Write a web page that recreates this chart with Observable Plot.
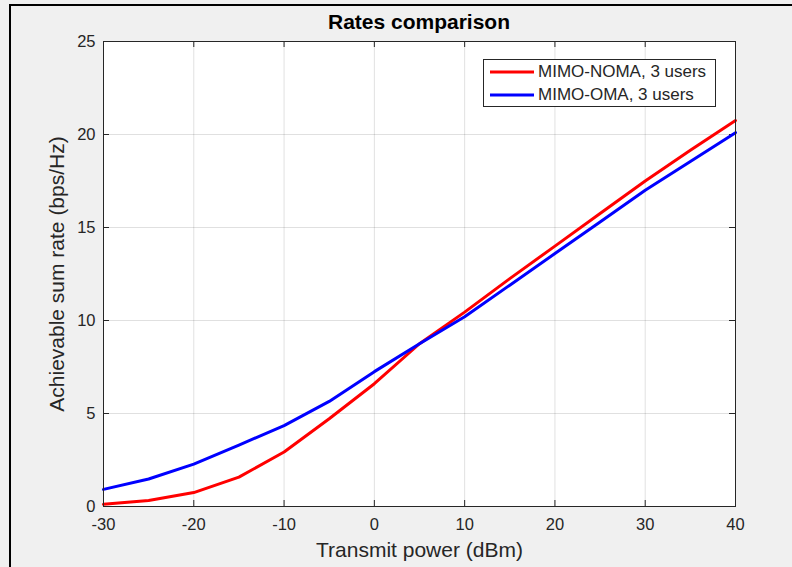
<!DOCTYPE html>
<html>
<head>
<meta charset="utf-8">
<script src="https://cdn.jsdelivr.net/npm/d3@7"></script>
<script src="https://cdn.jsdelivr.net/npm/@observablehq/plot@0.6"></script>
<style>
  html, body { margin: 0; padding: 0; background: #f0f0f0; }
  #fig { position: relative; width: 792px; height: 567px; overflow: hidden; background: #f0f0f0;
         font-family: "Liberation Sans", Arial, Helvetica, sans-serif; }
  #bt { position: absolute; left: 9px; top: 4px; width: 783px; height: 2px; background: #000; }
  #bl { position: absolute; left: 9px; top: 4px; width: 2px; height: 563px; background: #000; }
  #chart { position: absolute; left: 0; top: 0; }
  #title { position: absolute; left: 103px; width: 632px; top: 10px; text-align: center;
           font-weight: bold; font-size: 21px; color: #000; line-height: 24px; }
  #legend { position: absolute; left: 483px; top: 59px; width: 233px; height: 48px; background: #fff;
            border: 1px solid #262626; box-sizing: border-box; }
  .item { position: absolute; left: 6px; height: 22px; display: flex; align-items: center;
          font-size: 17px; color: #262626; white-space: nowrap; }
  .item svg { margin-right: 4px; }
</style>
</head>
<body>
<div id="fig">
  <div id="chart"></div>
  <div id="bt"></div>
  <div id="bl"></div>
  <div id="title"></div>
  <div id="legend"></div>
</div>
<script>
// ---- data ----
const power = [-30, -25, -20, -15, -10, -5, 0, 5, 10, 15, 20, 25, 30, 35, 40];
const nomaRate = [0.12, 0.32, 0.75, 1.58, 2.93, 4.72, 6.6, 8.75, 10.45, 12.25, 14.0, 15.75, 17.5, 19.15, 20.75];
const omaRate  = [0.92, 1.48, 2.28, 3.3, 4.35, 5.65, 7.25, 8.75, 10.2, 11.9, 13.6, 15.3, 17.0, 18.55, 20.1];
const seriesNames = ["MIMO-NOMA, 3 users", "MIMO-OMA, 3 users"];
const seriesColors = ["#ff0000", "#0000ff"];
const xTicks = [-30, -20, -10, 0, 10, 20, 30, 40];
const yTicks = [0, 5, 10, 15, 20, 25];
const titleText = "Rates comparison";
const xLabel = "Transmit power (dBm)";
const yLabel = "Achievable sum rate (bps/Hz)";

const data = power.flatMap((p, i) => [
  {power: p, rate: nomaRate[i], series: seriesNames[0]},
  {power: p, rate: omaRate[i], series: seriesNames[1]}
]);

const W = 792, H = 567, mL = 103, mR = 57, mT = 41, mB = 61;
const innerW = W - mL - mR, innerH = H - mT - mB, tickLen = 6;
const axisColor = "#262626";
const fmt = d => String(d);

const chart = Plot.plot({
  width: W, height: H,
  marginLeft: mL, marginRight: mR, marginTop: mT, marginBottom: mB,
  style: {background: "transparent", fontFamily: "'Liberation Sans', Arial, Helvetica, sans-serif", color: axisColor},
  x: {domain: [-30, 40]},
  y: {domain: [0, 25]},
  color: {domain: seriesNames, range: seriesColors},
  marks: [
    Plot.frame({fill: "white", stroke: null}),
    Plot.gridX(xTicks, {stroke: "#000", strokeOpacity: 0.12}),
    Plot.gridY(yTicks, {stroke: "#000", strokeOpacity: 0.12}),
    Plot.tickX(xTicks, {x: d => d, insetTop: innerH - tickLen, stroke: axisColor}),
    Plot.tickX(xTicks, {x: d => d, insetBottom: innerH - tickLen, stroke: axisColor}),
    Plot.tickY(yTicks, {y: d => d, insetRight: innerW - tickLen, stroke: axisColor}),
    Plot.tickY(yTicks, {y: d => d, insetLeft: innerW - tickLen, stroke: axisColor}),
    Plot.axisX(xTicks, {tickSize: 0, tickPadding: 12, tickFormat: fmt, label: null, fontSize: 16.5, fill: axisColor}),
    Plot.axisY(yTicks, {tickSize: 0, tickPadding: 8, tickFormat: fmt, label: null, fontSize: 16.5, fill: axisColor}),
    Plot.text([xLabel], {text: d => d, frameAnchor: "bottom", dy: 50, fontSize: 21, fill: axisColor}),
    Plot.text([yLabel], {text: d => d, frameAnchor: "left", dx: -46, rotate: -90, textAnchor: "middle", fontSize: 21, fill: axisColor}),
    Plot.line(data, {x: "power", y: "rate", stroke: "series", strokeWidth: 3}),
    Plot.frame({stroke: axisColor, strokeWidth: 1})
  ]
});
document.getElementById("chart").appendChild(chart);
document.getElementById("title").textContent = titleText;

const legend = document.getElementById("legend");
seriesNames.forEach((name, i) => {
  const item = document.createElement("div");
  item.className = "item";
  item.style.top = (1 + i * 23) + "px";
  item.innerHTML = `<svg width="44" height="6"><line x1="0" y1="3" x2="44" y2="3" stroke="${seriesColors[i]}" stroke-width="3"/></svg>`;
  const span = document.createElement("span");
  span.textContent = name;
  item.appendChild(span);
  legend.appendChild(item);
});
</script>
</body>
</html>
